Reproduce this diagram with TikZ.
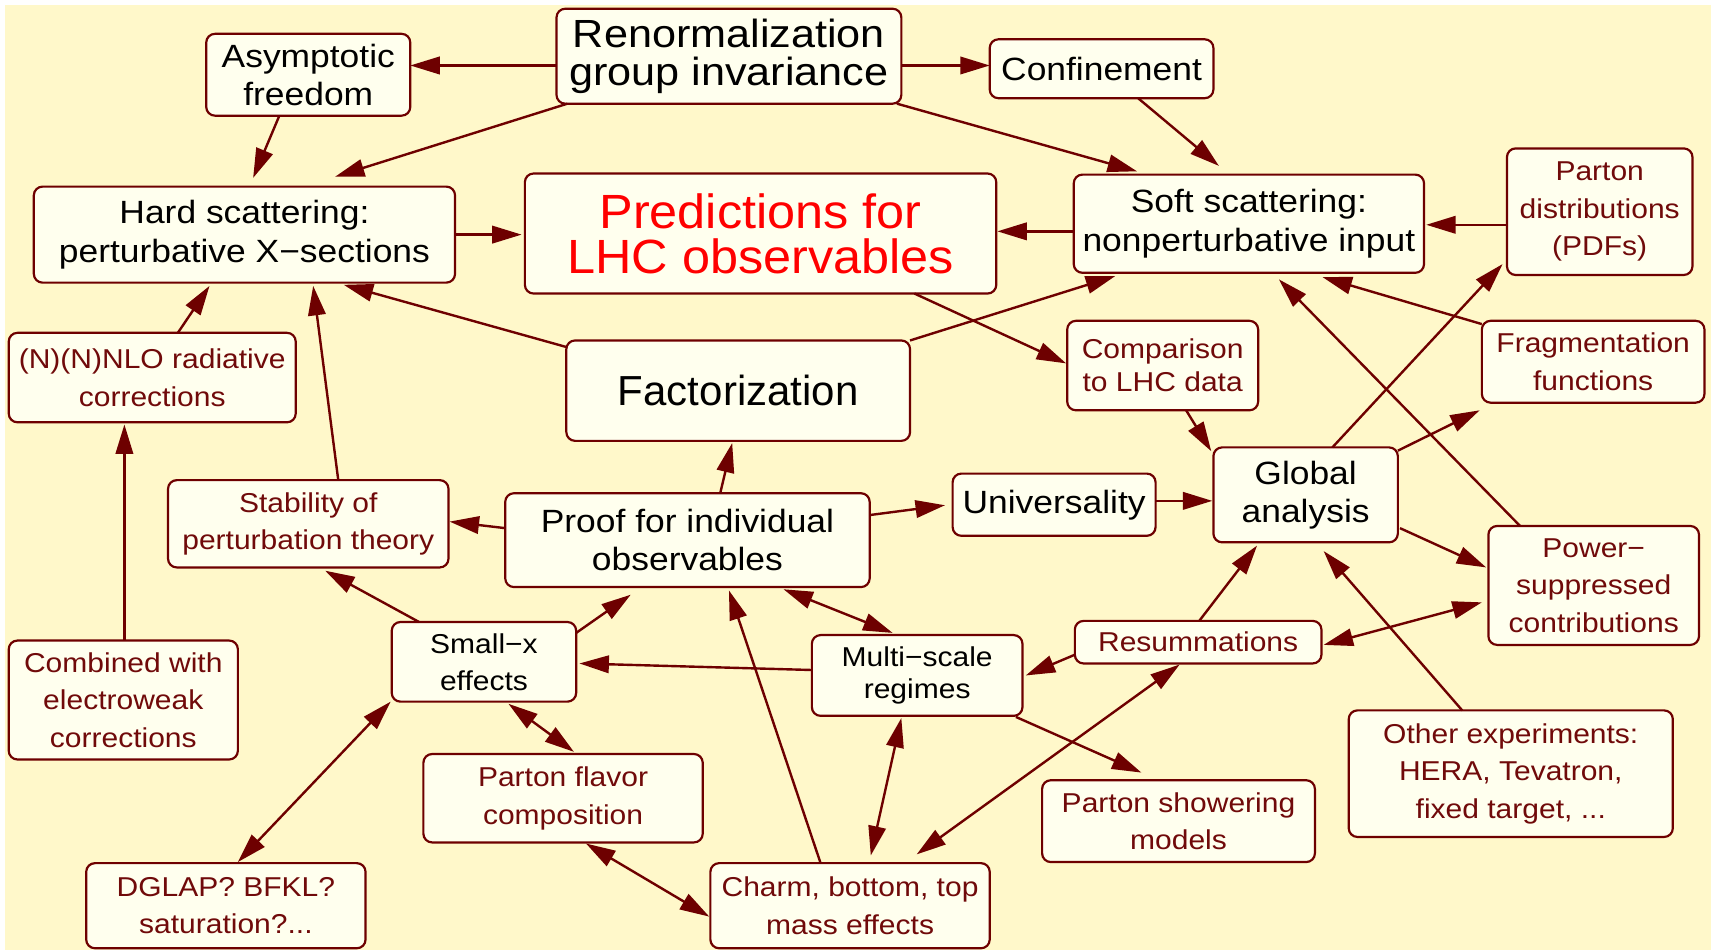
\documentclass[tikz,border=0pt]{standalone}
\usepackage{fontspec}
\setmainfont{Liberation Sans}[FakeStretch=1.1]
\newfontfamily\plainfont{Liberation Sans}
\newfontfamily\predfont{Liberation Sans}[FakeStretch=1.05]
\usetikzlibrary{arrows.meta,calc}
\definecolor{bgc}{RGB}{255,248,202}
\definecolor{boxfill}{RGB}{255,255,238}
\definecolor{mrn}{RGB}{110,0,0}
\definecolor{mtext}{RGB}{112,10,10}
\definecolor{predred}{RGB}{255,0,0}
\tikzset{
 box/.style={draw=mrn, line width=2pt, fill=boxfill, rounded corners=8pt, inner sep=0pt, align=center},
 blk/.style={box, text=black, font=\fontsize{29.5}{35}\selectfont},
 mar/.style={box, text=mtext, font=\fontsize{25}{34.5}\selectfont},
 arr/.style={draw=mrn, line width=2.2pt, -{Triangle[length=27pt,width=16pt]}},
 darr/.style={draw=mrn, line width=2.2pt, {Triangle[length=27pt,width=16pt]}-{Triangle[length=27pt,width=16pt]}},
}
\begin{document}
\begin{tikzpicture}[x=1pt,y=-1pt]
\useasboundingbox (0,0) rectangle (1568,871);
\fill[white] (0,0) rectangle (1568,871);
\fill[bgc] (4.5,4.5) rectangle (1568,871);

% nodes
\node[blk, font=\fontsize{36}{35}\selectfont, minimum width=316pt, minimum height=87pt] (renorm) at (668,51.5) {Renormalization\\group invariance};
\node[blk, minimum width=187pt, minimum height=75pt] (asym) at (282.5,68.5) {Asymptotic\\freedom};
\node[blk, minimum width=205pt, minimum height=54pt] (conf) at (1009.5,63) {Confinement};
\node[blk, minimum width=386pt, minimum height=88pt] (hard) at (224,215) {Hard scattering:\\perturbative X−sections};
\node[box, text=predred, font=\predfont\fontsize{44}{41}\selectfont, minimum width=432pt, minimum height=110pt] (pred) at (697,214) {Predictions for\\LHC observables};
\node[blk, minimum width=321pt, minimum height=90pt] (soft) at (1144.5,205) {Soft scattering:\\nonperturbative input};
\node[mar, minimum width=170pt, minimum height=116pt] (pdf) at (1466,194) {Parton\\distributions\\(PDFs)};
\node[mar, minimum width=204pt, minimum height=75pt] (frag) at (1460,331.5) {Fragmentation\\functions};
\node[mar, font=\fontsize{25}{30}\selectfont, minimum width=175pt, minimum height=82pt] (comp) at (1065.5,335) {Comparison\\to LHC data};
\node[mar, minimum width=263pt, minimum height=82pt] (nnlo) at (139.5,346) {(N)(N)NLO radiative\\corrections};
\node[box, text=black, font=\plainfont\fontsize{38.5}{40}\selectfont, minimum width=315pt, minimum height=92pt] (fact) at (676.5,358) {Factorization};
\node[mar, minimum width=257pt, minimum height=80pt] (stab) at (282.5,480) {Stability of\\perturbation theory};
\node[blk, minimum width=334pt, minimum height=86pt] (proof) at (630,495) {Proof for individual\\observables};
\node[blk, minimum width=186pt, minimum height=57pt] (univ) at (966,462.5) {Universality};
\node[blk, minimum width=169pt, minimum height=87pt] (glob) at (1196.5,453.5) {Global\\analysis};
\node[mar, minimum width=193pt, minimum height=109pt] (power) at (1460.5,536.5) {Power−\\suppressed\\contributions};
\node[mar, minimum width=210pt, minimum height=109pt] (comb) at (113,641.5) {Combined with\\electroweak\\corrections};
\node[blk, font=\fontsize{25}{34}\selectfont, minimum width=169pt, minimum height=73pt] (smallx) at (443.5,606.5) {Small−x\\effects};
\node[blk, font=\fontsize{25}{30}\selectfont, minimum width=193pt, minimum height=74pt] (multi) at (840.5,619) {Multi−scale\\regimes};
\node[mar, minimum width=226pt, minimum height=39pt] (resum) at (1098,588.5) {Resummations};
\node[mar, minimum width=256pt, minimum height=81pt] (flav) at (516,731.5) {Parton flavor\\composition};
\node[mar, minimum width=256pt, minimum height=78pt] (dglap) at (207,830) {DGLAP? BFKL?\\saturation?...};
\node[mar, minimum width=256pt, minimum height=78pt] (charm) at (779,830) {Charm, bottom, top\\mass effects};
\node[mar, minimum width=250pt, minimum height=75pt] (show) at (1080,752.5) {Parton showering\\models};
\node[mar, minimum width=297pt, minimum height=116pt] (other) at (1384.5,709) {Other experiments:\\HERA, Tevatron,\\fixed target, ...};

% edges
\draw[arr] ($(renorm)+(-158,8.5)$) -- ($(asym)+(93.5,-8.5)$);
\draw[arr] ($(renorm)+(158,8.5)$) -- ($(conf)+(-102.5,-3)$);
\draw[arr] ($(renorm)+(-148,43.5)$) -- ($(hard)+(83,-53)$);
\draw[arr] ($(renorm)+(154,43.5)$) -- ($(soft)+(-102.5,-48)$);
\draw[arr] ($(asym)+(-26.5,37.5)$) -- ($(hard)+(8,-52)$);
\draw[arr] ($(conf)+(33.5,27)$) -- ($(soft)+(-27.5,-53)$);
\draw[arr] ($(hard)+(193,0)$) -- ($(pred)+(-219,1)$);
\draw[arr] ($(soft)+(-160.5,7)$) -- ($(pred)+(217,-2)$);
\draw[arr] ($(pdf)+(-85,12)$) -- ($(soft)+(162.5,1)$);
\draw[arr] ($(fact)+(-157.5,-40)$) -- ($(hard)+(91,46)$);
\draw[arr] ($(fact)+(157.5,-46)$) -- ($(soft)+(-122.5,48)$);
\draw[arr] ($(pred)+(141,55)$) -- ($(comp)+(-88.5,-2)$);
\draw[arr] ($(comp)+(21.5,41)$) -- ($(glob)+(-86.5,-40)$);
\draw[arr] ($(frag)+(-102,-34.5)$) -- ($(soft)+(67.5,49)$);
\draw[arr] ($(power)+(-67.5,-54.5)$) -- ($(soft)+(27.5,51)$);
\draw[arr] ($(glob)+(24.5,-43.5)$) -- ($(pdf)+(-89,48)$);
\draw[arr] ($(glob)+(84.5,-40.5)$) -- ($(frag)+(-104,44.5)$);
\draw[arr] ($(glob)+(86.5,30.5)$) -- ($(power)+(-98.5,-16.5)$);
\draw[arr] ($(univ)+(93,-3.5)$) -- ($(glob)+(-85.5,5.5)$);
\draw[arr] ($(proof)+(167,-23)$) -- ($(univ)+(-100,0.5)$);
\draw[arr] ($(proof)+(30,-43)$) -- ($(fact)+(-5.5,48)$);
\draw[arr] ($(proof)+(-167,-11)$) -- ($(stab)+(129.5,-2)$);
\draw[arr] ($(stab)+(27.5,-40)$) -- ($(hard)+(63,47)$);
\draw[arr] ($(nnlo)+(23.5,-41)$) -- ($(hard)+(-32,47)$);
\draw[arr] ($(comb)+(1,-54.5)$) -- ($(nnlo)+(-25.5,43)$);
\draw[arr] ($(smallx)+(-59.5,-36.5)$) -- ($(stab)+(15.5,43)$);
\draw[arr] ($(smallx)+(84.5,-26.5)$) -- ($(proof)+(-52,50)$);
\draw[arr] ($(multi)+(-96.5,-5)$) -- ($(smallx)+(87.5,1.5)$);
\draw[darr] ($(multi)+(-22.5,-39)$) -- ($(proof)+(88,45)$);
\draw[darr] ($(smallx)+(-85.5,36.5)$) -- ($(dglap)+(11,-40)$);
\draw[darr] ($(smallx)+(22.5,38.5)$) -- ($(flav)+(10,-42.5)$);
\draw[darr] ($(flav)+(21,41.5)$) -- ($(charm)+(-129,10)$);
\draw[arr] ($(charm)+(-27,-39)$) -- ($(proof)+(38,46)$);
\draw[darr] ($(charm)+(19,-46)$) -- ($(multi)+(-14.5,39)$);
\draw[darr] ($(charm)+(61,-47)$) -- ($(resum)+(-17,20.5)$);
\draw[arr] ($(resum)+(-113,11.5)$) -- ($(multi)+(99.5,0)$);
\draw[arr] ($(resum)+(1,-19.5)$) -- ($(glob)+(-44.5,46.5)$);
\draw[darr] ($(resum)+(115,2.5)$) -- ($(power)+(-102.5,15.5)$);
\draw[arr] ($(other)+(-44.5,-58)$) -- ($(glob)+(16.5,51.5)$);
\draw[arr] ($(multi)+(90.5,38)$) -- ($(show)+(-34,-44.5)$);
\end{tikzpicture}
\end{document}
